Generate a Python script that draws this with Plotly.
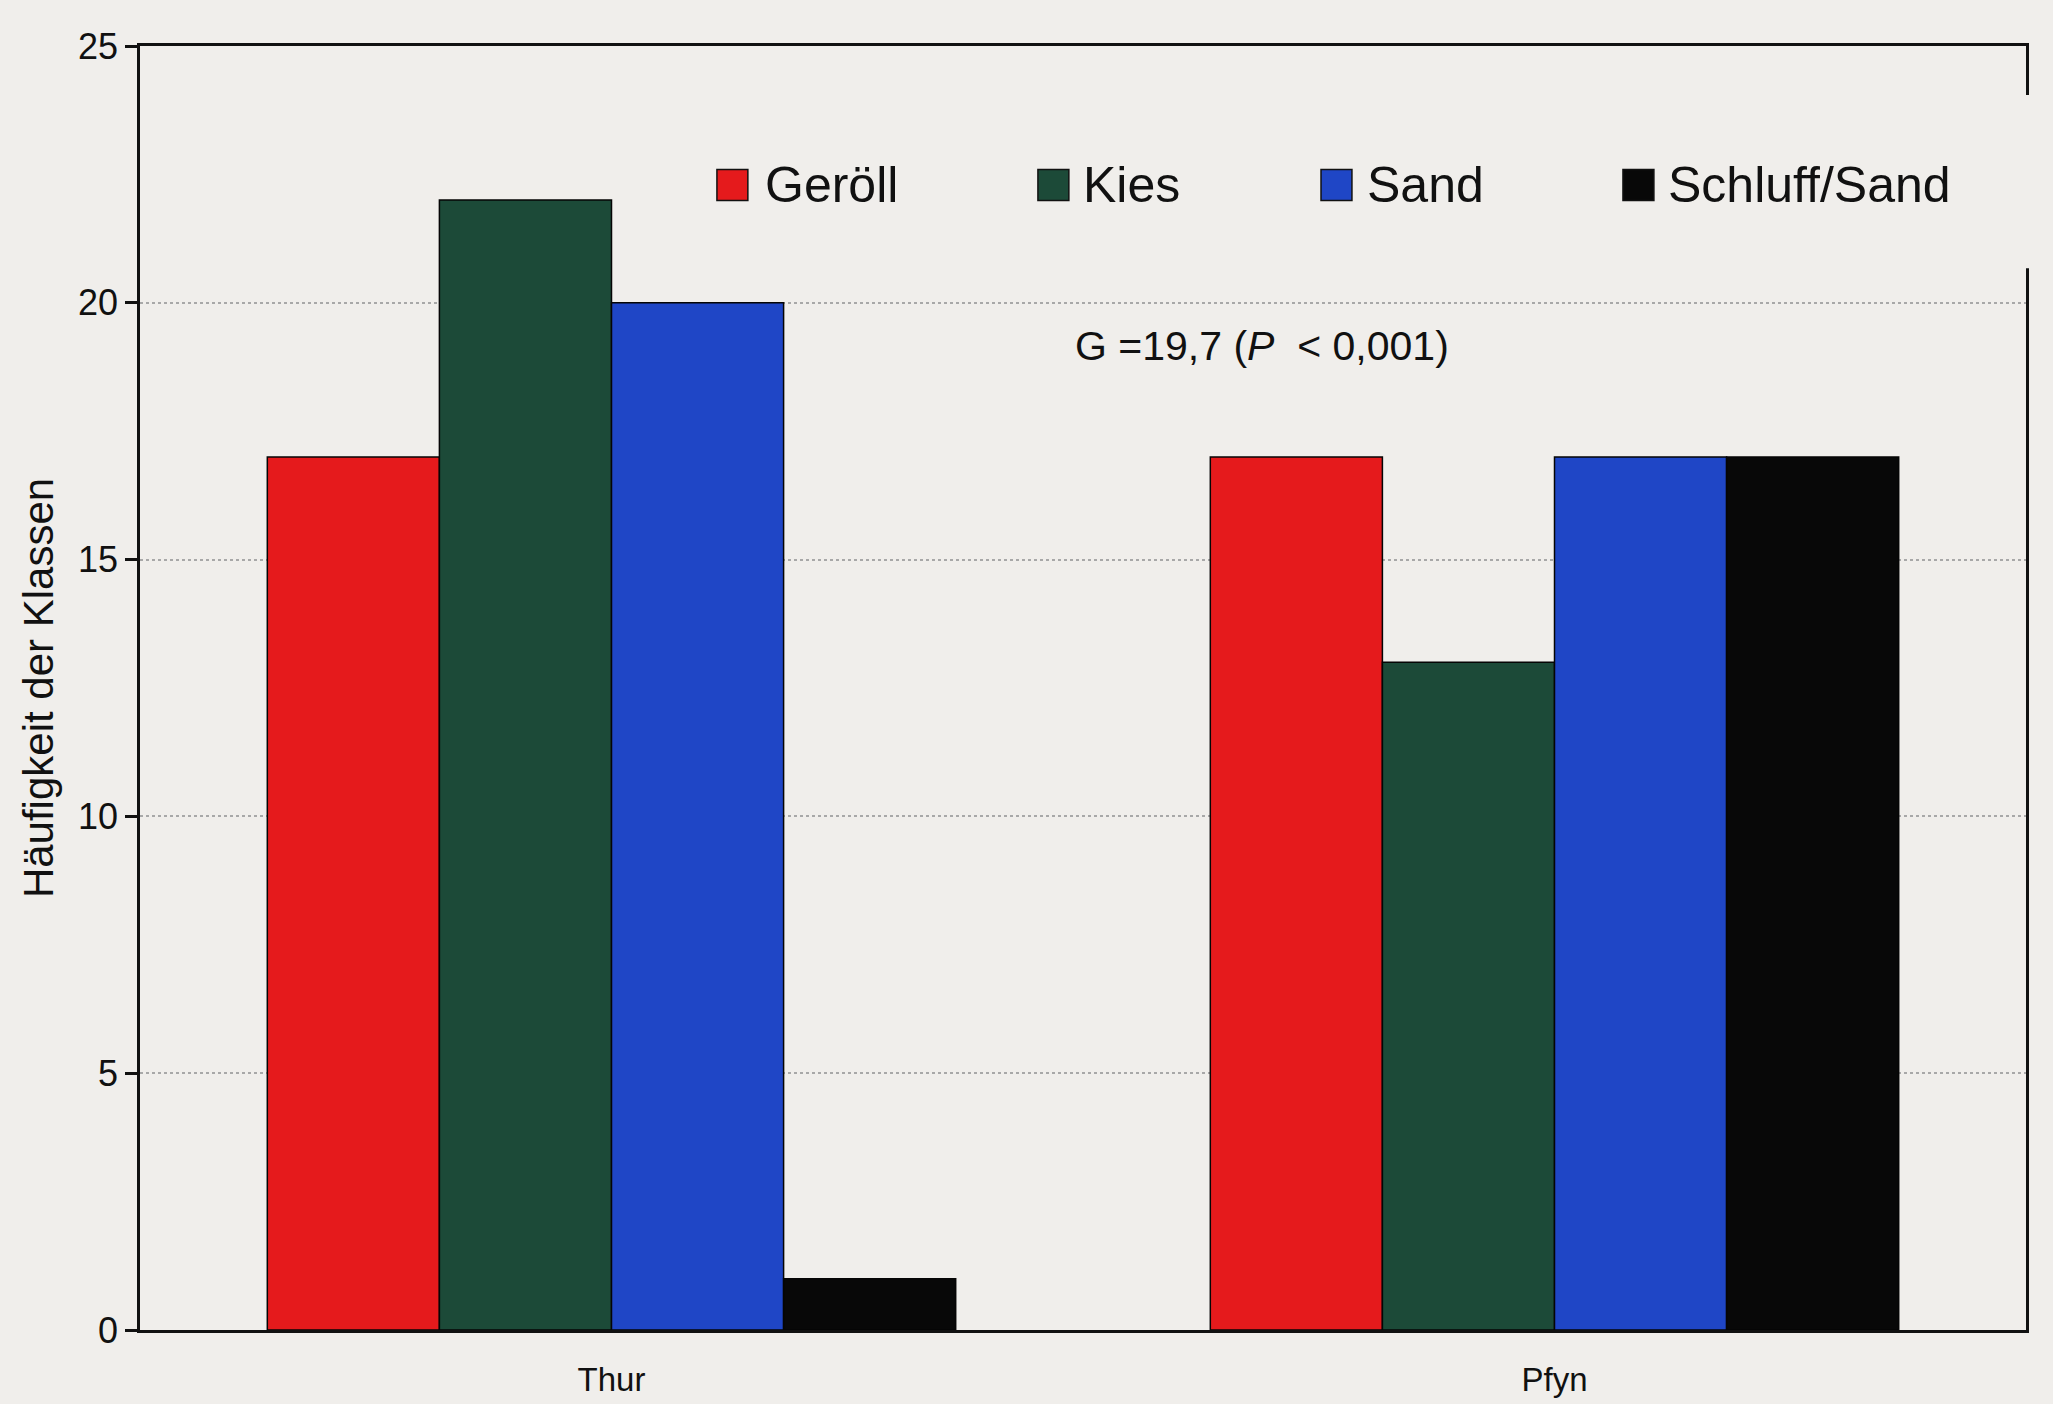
import plotly.graph_objects as go

# Sites and sediment classes
sites = ["Thur", "Pfyn"]
classes = ["Geröll", "Kies", "Sand", "Schluff/Sand"]

# Frequency of each class per site
geroell = [17, 17]
kies = [22, 13]
sand = [20, 17]
schluff_sand = [1, 17]

class_colors = ["#e51a1c", "#1c4a38", "#1f46c6", "#080808"]
series = [geroell, kies, sand, schluff_sand]

y_ticks = [0, 5, 10, 15, 20, 25]

bg = "#f0eeeb"
font_family = "Liberation Sans, Arial, sans-serif"

fig = go.Figure()
for name, values, color in zip(classes, series, class_colors):
    fig.add_trace(go.Bar(
        x=sites, y=values, name=name,
        marker=dict(color=color, line=dict(color="#050505", width=1.5)),
        showlegend=False,
    ))

# Custom legend row: large square swatches with labels
legend_swatch_x = [0.3059, 0.4761, 0.6262, 0.7863]
legend_text_x = [0.3303, 0.4989, 0.6495, 0.8091]
legend_y = 0.8918
sw_w = 0.0164
sw_h = 0.0241

shapes = [
    # backdrop behind the legend row (interrupts the right frame line)
    dict(type="rect", xref="paper", yref="paper", x0=0.28, x1=1.006,
         y0=0.827, y1=0.9618, fillcolor=bg, line=dict(width=0),
         layer="above"),
]
annotations = []
for name, color, sx, tx in zip(classes, class_colors, legend_swatch_x, legend_text_x):
    shapes.append(dict(type="rect", xref="paper", yref="paper",
                       x0=sx, x1=sx + sw_w, y0=legend_y - sw_h / 2, y1=legend_y + sw_h / 2,
                       fillcolor=color, line=dict(color="#111111", width=1.5),
                       layer="above"))
    annotations.append(dict(xref="paper", yref="paper", x=tx, y=legend_y,
                            xanchor="left", yanchor="middle", showarrow=False,
                            text=name, font=dict(family=font_family, size=50, color="#111111")))

annotations.append(dict(xref="paper", yref="paper", x=0.5949, y=0.7664,
                        xanchor="center", yanchor="middle", showarrow=False,
                        text="G =19,7 (<i>P</i>  &lt; 0,001)",
                        font=dict(family=font_family, size=41, color="#111111")))

fig.update_layout(
    width=2053, height=1404,
    margin=dict(l=140, r=27, t=46, b=74),
    paper_bgcolor=bg, plot_bgcolor=bg,
    barmode="group", bargap=0.27, bargroupgap=0,
    font=dict(family=font_family, color="#111111"),
    shapes=shapes, annotations=annotations,
    showlegend=False,
)
fig.update_xaxes(
    showline=True, linecolor="#111111", linewidth=2.5, mirror=True,
    ticks="", showgrid=False, tickfont=dict(size=33),
    ticklabelstandoff=19, automargin=False,
)
fig.update_yaxes(
    range=[0, 25], tickvals=y_ticks,
    showline=True, linecolor="#111111", linewidth=2.5, mirror=True,
    ticks="outside", ticklen=12, tickwidth=2.5, tickcolor="#111111",
    tickfont=dict(size=36),
    showgrid=True, gridcolor="#a8a8a8", gridwidth=1.5, griddash="dot",
    zeroline=False, automargin=False,
    title=dict(text="Häufigkeit der Klassen", font=dict(size=42), standoff=12),
)

fig.write_html("out.html")
